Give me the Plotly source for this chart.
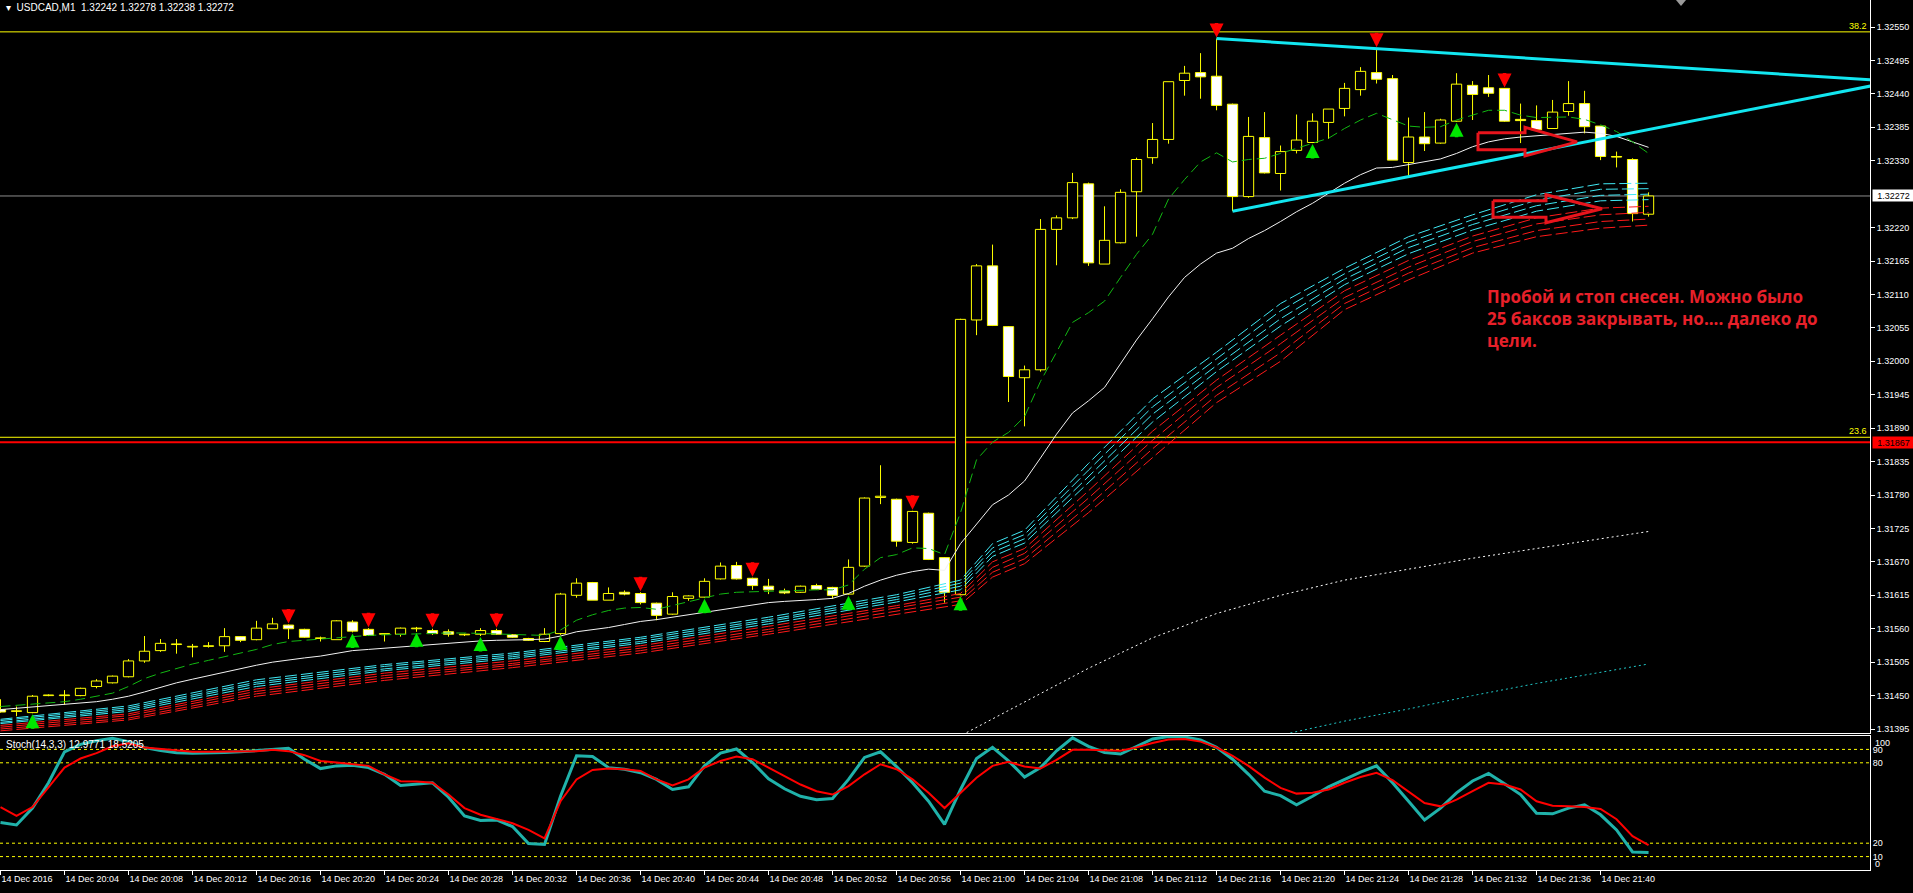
import pandas as pd
import plotly.graph_objects as go

# ---------------- data ----------------
opens = [1.31427, 1.31424, 1.31422, 1.31450, 1.31450, 1.31450, 1.31465, 1.31471, 1.31481, 1.31507,
         1.31524, 1.31534, 1.31530, 1.31531, 1.31532, 1.31547, 1.31542, 1.31560, 1.31566, 1.31559,
         1.31544, 1.31542, 1.31571, 1.31559, 1.31551, 1.31551, 1.31560, 1.31557, 1.31555, 1.31550,
         1.31551, 1.31557, 1.31550, 1.31544, 1.31539, 1.31552, 1.31615, 1.31636, 1.31607, 1.31620,
         1.31618, 1.31602, 1.31584, 1.31610, 1.31612, 1.31642, 1.31664, 1.31643, 1.31630, 1.31622,
         1.31620, 1.31631, 1.31628, 1.31617, 1.31663, 1.31776, 1.31773, 1.31702, 1.31750, 1.31677,
         1.31616, 1.32068, 1.32157, 1.32057, 1.31973, 1.31986, 1.32217, 1.32236, 1.32292, 1.32160,
         1.32195, 1.32279, 1.32335, 1.32365, 1.32462, 1.32475, 1.32469, 1.32423, 1.32271, 1.32368,
         1.32309, 1.32347, 1.32360, 1.32393, 1.32416, 1.32447, 1.32475, 1.32465, 1.32327, 1.32369,
         1.32359, 1.32395, 1.32454, 1.32450, 1.32449, 1.32398, 1.32396, 1.32383, 1.32411, 1.32424,
         1.32387, 1.32337, 1.32332, 1.32242]
highs = [1.31444, 1.31432, 1.31451, 1.31452, 1.31459, 1.31463, 1.31477, 1.31483, 1.31510, 1.31548,
         1.31543, 1.31543, 1.31535, 1.31538, 1.31561, 1.31548, 1.31573, 1.31578, 1.31567, 1.31560,
         1.31547, 1.31574, 1.31574, 1.31561, 1.31552, 1.31562, 1.31563, 1.31560, 1.31559, 1.31552,
         1.31561, 1.31560, 1.31551, 1.31545, 1.31561, 1.31619, 1.31643, 1.31637, 1.31628, 1.31623,
         1.31620, 1.31603, 1.31620, 1.31615, 1.31643, 1.31669, 1.31670, 1.31644, 1.31642, 1.31626,
         1.31631, 1.31634, 1.31629, 1.31674, 1.31776, 1.31829, 1.31774, 1.31754, 1.31751, 1.31678,
         1.32070, 1.32160, 1.32192, 1.32058, 1.31993, 1.32234, 1.32240, 1.32310, 1.32294, 1.32255,
         1.32283, 1.32335, 1.32392, 1.32460, 1.32486, 1.32507, 1.32531, 1.32424, 1.32402, 1.32410,
         1.32355, 1.32406, 1.32408, 1.32415, 1.32458, 1.32484, 1.32515, 1.32471, 1.32401, 1.32410,
         1.32399, 1.32474, 1.32461, 1.32471, 1.32449, 1.32424, 1.32421, 1.32430, 1.32461, 1.32445,
         1.32387, 1.32345, 1.32334, 1.32278]
lows = [1.31422, 1.31416, 1.31421, 1.31449, 1.31435, 1.31449, 1.31462, 1.31470, 1.31480, 1.31504,
        1.31522, 1.31519, 1.31513, 1.31529, 1.31522, 1.31538, 1.31541, 1.31560, 1.31543, 1.31545,
        1.31539, 1.31542, 1.31554, 1.31548, 1.31539, 1.31547, 1.31555, 1.31550, 1.31547, 1.31548,
        1.31548, 1.31550, 1.31545, 1.31540, 1.31538, 1.31550, 1.31611, 1.31607, 1.31607, 1.31615,
        1.31600, 1.31574, 1.31583, 1.31606, 1.31611, 1.31641, 1.31641, 1.31624, 1.31617, 1.31617,
        1.31619, 1.31624, 1.31609, 1.31616, 1.31662, 1.31765, 1.31695, 1.31700, 1.31673, 1.31603,
        1.31615, 1.32043, 1.32058, 1.31933, 1.31893, 1.31983, 1.32158, 1.32234, 1.32157, 1.32160,
        1.32194, 1.32205, 1.32325, 1.32358, 1.32437, 1.32432, 1.32413, 1.32247, 1.32269, 1.32309,
        1.32281, 1.32342, 1.32359, 1.32366, 1.32403, 1.32437, 1.32457, 1.32331, 1.32305, 1.32346,
        1.32358, 1.32394, 1.32397, 1.32435, 1.32394, 1.32359, 1.32380, 1.32383, 1.32404, 1.32375,
        1.32331, 1.32319, 1.32230, 1.32238]
closes = [1.31423, 1.31425, 1.31449, 1.31451, 1.31451, 1.31462, 1.31474, 1.31482, 1.31507, 1.31523,
          1.31536, 1.31535, 1.31531, 1.31532, 1.31547, 1.31541, 1.31561, 1.31568, 1.31560, 1.31546,
          1.31545, 1.31573, 1.31556, 1.31549, 1.31552, 1.31561, 1.31561, 1.31552, 1.31551, 1.31551,
          1.31557, 1.31551, 1.31546, 1.31541, 1.31551, 1.31617, 1.31635, 1.31607, 1.31618, 1.31617,
          1.31603, 1.31582, 1.31613, 1.31614, 1.31638, 1.31663, 1.31642, 1.31631, 1.31624, 1.31619,
          1.31630, 1.31625, 1.31615, 1.31661, 1.31775, 1.31778, 1.31704, 1.31753, 1.31674, 1.31620,
          1.32069, 1.32157, 1.32059, 1.31975, 1.31986, 1.32217, 1.32236, 1.32294, 1.32162, 1.32199,
          1.32278, 1.32332, 1.32365, 1.32460, 1.32474, 1.32468, 1.32421, 1.32271, 1.32370, 1.32310,
          1.32345, 1.32364, 1.32395, 1.32415, 1.32449, 1.32477, 1.32464, 1.32331, 1.32369, 1.32358,
          1.32397, 1.32456, 1.32439, 1.32441, 1.32395, 1.32396, 1.32381, 1.32410, 1.32424, 1.32386,
          1.32337, 1.32336, 1.32243, 1.32272]

ma_fast = [1.31432, 1.31434, 1.31436, 1.31437, 1.31440, 1.31444, 1.31449, 1.31454, 1.31465, 1.31478,
           1.31487, 1.31495, 1.31502, 1.31508, 1.31514, 1.31520, 1.31526, 1.31534, 1.31539, 1.31541,
           1.31543, 1.31546, 1.31548, 1.31549, 1.31550, 1.31551, 1.31552, 1.31553, 1.31553, 1.31553,
           1.31552, 1.31551, 1.31550, 1.31549, 1.31549, 1.31558, 1.31574, 1.31583, 1.31590, 1.31594,
           1.31595, 1.31592, 1.31598, 1.31604, 1.31611, 1.31617, 1.31620, 1.31621, 1.31622, 1.31623,
           1.31624, 1.31624, 1.31624, 1.31632, 1.31658, 1.31677, 1.31682, 1.31693, 1.31692, 1.31682,
           1.31751, 1.31838, 1.31867, 1.31883, 1.31909, 1.31967, 1.32015, 1.32064, 1.32080, 1.32099,
           1.32138, 1.32176, 1.32209, 1.32267, 1.32299, 1.32328, 1.32343, 1.32328, 1.32332, 1.32334,
           1.32342, 1.32350, 1.32359, 1.32367, 1.32383, 1.32397, 1.32408, 1.32397, 1.32387, 1.32385,
           1.32386, 1.32397, 1.32405, 1.32413, 1.32413, 1.32405, 1.32401, 1.32401, 1.32402, 1.32398,
           1.32389, 1.32378, 1.32361, 1.32342]
ma_slow = [1.31427, 1.31429, 1.31431, 1.31433, 1.31435, 1.31437, 1.31440, 1.31444, 1.31449, 1.31456,
           1.31464, 1.31471, 1.31477, 1.31483, 1.31489, 1.31495, 1.31500, 1.31505, 1.31509, 1.31512,
           1.31515, 1.31520, 1.31524, 1.31526, 1.31528, 1.31531, 1.31533, 1.31535, 1.31537, 1.31539,
           1.31540, 1.31541, 1.31541, 1.31542, 1.31543, 1.31548, 1.31555, 1.31558, 1.31562, 1.31567,
           1.31572, 1.31575, 1.31579, 1.31582, 1.31586, 1.31591, 1.31595, 1.31599, 1.31603, 1.31605,
           1.31606, 1.31608, 1.31610, 1.31618, 1.31630, 1.31640, 1.31648, 1.31654, 1.31658, 1.31656,
           1.31700, 1.31732, 1.31764, 1.31780, 1.31803, 1.31841, 1.31880, 1.31915, 1.31935, 1.31957,
           1.31996, 1.32035, 1.32070, 1.32106, 1.32138, 1.32160, 1.32178, 1.32186, 1.32202, 1.32215,
           1.32230, 1.32246, 1.32260, 1.32276, 1.32293, 1.32307, 1.32318, 1.32319, 1.32324, 1.32328,
           1.32333, 1.32342, 1.32353, 1.32361, 1.32366, 1.32369, 1.32371, 1.32373, 1.32376, 1.32377,
           1.32375, 1.32370, 1.32361, 1.32352]

ribbon_bars = [0, 8, 16, 24, 32, 40, 48, 56, 60, 62, 64, 68, 72, 76, 80, 84, 88, 92, 96, 100, 103]
cyan_ma1 = [1.31411, 1.31433, 1.31476, 1.31501, 1.31520, 1.31546, 1.31579, 1.31616, 1.31640, 1.31700, 1.31722,
            1.31832, 1.31938, 1.32015, 1.32095, 1.32153, 1.32205, 1.32241, 1.32274, 1.32292, 1.32293]
cyan_ma2 = [1.31409, 1.31430, 1.31472, 1.31498, 1.31517, 1.31543, 1.31575, 1.31612, 1.31635, 1.31693, 1.31715,
            1.31821, 1.31925, 1.32004, 1.32083, 1.32144, 1.32196, 1.32233, 1.32265, 1.32283, 1.32284]
cyan_ma3 = [1.31406, 1.31427, 1.31469, 1.31494, 1.31514, 1.31539, 1.31572, 1.31608, 1.31630, 1.31686, 1.31708,
            1.31811, 1.31913, 1.31993, 1.32070, 1.32135, 1.32187, 1.32225, 1.32256, 1.32273, 1.32275]
cyan_ma4 = [1.31404, 1.31424, 1.31465, 1.31491, 1.31511, 1.31536, 1.31568, 1.31604, 1.31624, 1.31679, 1.31701,
            1.31800, 1.31900, 1.31983, 1.32058, 1.32126, 1.32177, 1.32216, 1.32247, 1.32264, 1.32266]
red_ma1 = [1.31401, 1.31420, 1.31461, 1.31487, 1.31507, 1.31532, 1.31564, 1.31598, 1.31618, 1.31670, 1.31692,
           1.31787, 1.31885, 1.31969, 1.32043, 1.32116, 1.32166, 1.32206, 1.32236, 1.32252, 1.32255]
red_ma2 = [1.31398, 1.31417, 1.31457, 1.31483, 1.31503, 1.31528, 1.31559, 1.31594, 1.31612, 1.31661, 1.31684,
           1.31775, 1.31870, 1.31957, 1.32029, 1.32105, 1.32155, 1.32197, 1.32226, 1.32241, 1.32245]
red_ma3 = [1.31395, 1.31413, 1.31453, 1.31479, 1.31500, 1.31524, 1.31555, 1.31589, 1.31606, 1.31653, 1.31675,
           1.31763, 1.31856, 1.31944, 1.32014, 1.32095, 1.32145, 1.32187, 1.32215, 1.32230, 1.32234]
red_ma4 = [1.31392, 1.31410, 1.31449, 1.31475, 1.31496, 1.31520, 1.31551, 1.31584, 1.31600, 1.31645, 1.31667,
           1.31751, 1.31841, 1.31932, 1.32000, 1.32085, 1.32134, 1.32178, 1.32205, 1.32219, 1.32224]

long_white_bars = [59, 64, 68, 72, 76, 80, 84, 88, 92, 96, 100, 103]
long_white_ma = [1.31370, 1.31440, 1.31495, 1.31545, 1.31585, 1.31615, 1.31640, 1.31658, 1.31676, 1.31692, 1.31708, 1.31720]
long_cyan_bars = [80, 84, 88, 92, 96, 100, 103]
long_cyan_ma = [1.31385, 1.31408, 1.31428, 1.31450, 1.31470, 1.31488, 1.31502]

stoch_main = [35.4, 33.6, 46.2, 65.1, 88.2, 93.8, 96.5, 98.3, 95.8, 91.3,
              89.2, 87.5, 87.2, 87.2, 87.7, 88.2, 89.0, 90.3, 90.8, 82.7,
              75.7, 77.7, 78.2, 76.4, 71.4, 63.1, 64.3, 65.1, 54.3, 40.4,
              36.9, 37.4, 32.4, 19.8, 19.0, 55.0, 85.2, 84.7, 76.4, 75.2,
              72.6, 67.6, 60.1, 62.1, 77.7, 87.2, 90.3, 80.2, 68.1, 60.6,
              55.0, 52.5, 53.3, 67.6, 84.0, 88.2, 77.2, 65.1, 51.3, 34.1,
              60.1, 83.2, 91.5, 81.4, 69.4, 76.4, 89.0, 98.6, 92.3, 87.7,
              86.5, 92.3, 97.8, 99.6, 99.3, 97.0, 91.5, 82.7, 71.4, 58.8,
              55.5, 48.7, 55.0, 62.1, 67.6, 73.1, 77.7, 65.1, 51.3, 37.4,
              46.2, 57.6, 66.4, 72.1, 64.3, 56.3, 42.4, 41.9, 46.2, 48.7,
              41.2, 29.9, 13.5, 12.98]
stoch_signal = [47.0, 40.4, 47.0, 61.3, 76.4, 83.2, 87.2, 92.3, 94.5, 91.5,
                90.3, 89.2, 88.2, 88.2, 88.2, 88.2, 88.7, 89.7, 88.7, 85.7,
                81.4, 80.2, 79.2, 77.7, 71.4, 66.3, 66.1, 65.1, 56.3, 46.2,
                41.2, 37.9, 34.9, 29.9, 23.6, 51.3, 67.6, 74.7, 75.7, 75.2,
                73.9, 67.6, 63.1, 67.6, 76.4, 81.4, 84.7, 82.7, 76.4, 70.1,
                63.8, 58.8, 56.3, 62.6, 71.4, 78.9, 75.2, 67.6, 57.6, 46.2,
                57.6, 68.9, 77.7, 80.7, 77.2, 75.7, 82.2, 89.7, 89.7, 89.2,
                89.0, 91.5, 94.8, 97.3, 97.8, 95.8, 91.5, 85.2, 77.7, 68.9,
                61.3, 57.0, 57.6, 60.1, 65.1, 69.4, 72.6, 67.1, 58.8, 50.0,
                47.5, 52.5, 58.8, 65.1, 63.8, 60.1, 51.3, 48.0, 47.5, 47.0,
                45.5, 37.9, 25.3, 18.52]
stoch_levels = [90, 80, 20, 10]

up_arrow_bars = [18, 23, 27, 31, 40, 47, 57, 76, 86, 94]
down_arrow_bars = [2, 22, 26, 30, 35, 44, 53, 60, 82, 91]

trend_hi_bars = [76, 120]
trend_hi_prices = [1.32531, 1.32458]
trend_lo_bars = [77, 120]
trend_lo_prices = [1.32247, 1.32469]

arrow1_bars = [92.34, 95.28, 95.28, 98.53, 95.28, 95.28, 92.34, 92.34]
arrow1_prices = [1.32376, 1.32376, 1.32385, 1.32361, 1.32338, 1.32348, 1.32348, 1.32376]
arrow2_bars = [93.28, 96.59, 96.59, 100.09, 96.59, 96.59, 93.28, 93.28]
arrow2_prices = [1.32264, 1.32264, 1.32274, 1.32251, 1.32228, 1.32237, 1.32237, 1.32264]

fib_levels = [1.32542, 1.31875]
fib_labels = ["38.2", "23.6"]
stop_level = 1.31867
last_price = 1.32272

price_ticks = [1.32550, 1.32495, 1.32440, 1.32385, 1.32330, 1.32220, 1.32165, 1.32110, 1.32055,
               1.32000, 1.31945, 1.31890, 1.31835, 1.31780, 1.31725, 1.31670, 1.31615, 1.31560,
               1.31505, 1.31450, 1.31395]
time_tick_bars = [0, 4, 8, 12, 16, 20, 24, 28, 32, 36, 40, 44, 48, 52, 56, 60, 64, 68, 72, 76, 80,
                  84, 88, 92, 96, 100]
time_tick_labels = ["14 Dec 2016", "14 Dec 20:04", "14 Dec 20:08", "14 Dec 20:12", "14 Dec 20:16",
                    "14 Dec 20:20", "14 Dec 20:24", "14 Dec 20:28", "14 Dec 20:32", "14 Dec 20:36",
                    "14 Dec 20:40", "14 Dec 20:44", "14 Dec 20:48", "14 Dec 20:52", "14 Dec 20:56",
                    "14 Dec 21:00", "14 Dec 21:04", "14 Dec 21:08", "14 Dec 21:12", "14 Dec 21:16",
                    "14 Dec 21:20", "14 Dec 21:24", "14 Dec 21:28", "14 Dec 21:32", "14 Dec 21:36",
                    "14 Dec 21:40"]

header_text = "▾  USDCAD,M1  1.32242 1.32278 1.32238 1.32272"
stoch_text = "Stoch(14,3,3) 12.9771 18.5205"
note_text = "Пробой и стоп снесен. Можно было<br>25 баксов закрывать, но.... далеко до<br>цели."

# ---------------- helpers ----------------
start = pd.Timestamp("2016-12-14 20:00")


def t(k):
    return start + pd.Timedelta(minutes=k)


times = [t(i) for i in range(len(opens))]

W, H = 1913, 893
PL_W, PL_H = 1870, 870      # plot area in px
MAIN_BOTTOM, STOCH_TOP = 733, 736


def px(xp):
    return xp / PL_W


def py(yp):
    return 1 - yp / PL_H


FONT = "Liberation Sans, Arial, sans-serif"
YELLOW = "#ffff00"

fig = go.Figure()

# wicks (split so they do not cross the white bodies)
wx, wy = [], []
for i in range(len(opens)):
    top = max(opens[i], closes[i])
    bot = min(opens[i], closes[i])
    wx += [times[i], times[i], None, times[i], times[i], None]
    wy += [highs[i], top, None, bot, lows[i], None]
fig.add_trace(go.Scatter(x=wx, y=wy, mode="lines", line=dict(color=YELLOW, width=1),
                         hoverinfo="skip", xaxis="x", yaxis="y"))

body_base = [min(o, c) for o, c in zip(opens, closes)]
body_h = [abs(c - o) for o, c in zip(opens, closes)]
body_col = ["#000000" if c >= o else "#ffffff" for o, c in zip(opens, closes)]
fig.add_trace(go.Bar(x=times, y=body_h, base=body_base, width=0.64 * 60000,
                     marker=dict(color=body_col, line=dict(color=YELLOW, width=1)),
                     xaxis="x", yaxis="y", hoverinfo="skip"))

rb_t = [t(k) for k in ribbon_bars]
for arr in [red_ma4, red_ma3, red_ma2, red_ma1]:
    fig.add_trace(go.Scatter(x=rb_t, y=arr, mode="lines",
                             line=dict(color="#ff1a1a", width=1, dash="12px,4px"),
                             xaxis="x", yaxis="y", hoverinfo="skip"))
for arr in [cyan_ma4, cyan_ma3, cyan_ma2, cyan_ma1]:
    fig.add_trace(go.Scatter(x=rb_t, y=arr, mode="lines",
                             line=dict(color="#40e8f4", width=1, dash="12px,4px"),
                             xaxis="x", yaxis="y", hoverinfo="skip"))

fig.add_trace(go.Scatter(x=[t(k) for k in long_white_bars], y=long_white_ma, mode="lines",
                         line=dict(color="#ffffff", width=1, dash="2px,3px"),
                         xaxis="x", yaxis="y", hoverinfo="skip"))
fig.add_trace(go.Scatter(x=[t(k) for k in long_cyan_bars], y=long_cyan_ma, mode="lines",
                         line=dict(color="#20c8c8", width=1, dash="2px,3px"),
                         xaxis="x", yaxis="y", hoverinfo="skip"))

fig.add_trace(go.Scatter(x=times, y=ma_slow, mode="lines", line=dict(color="#f2f2f2", width=1),
                         xaxis="x", yaxis="y", hoverinfo="skip"))
fig.add_trace(go.Scatter(x=times, y=ma_fast, mode="lines",
                         line=dict(color="#12b812", width=1, dash="10px,5px"),
                         xaxis="x", yaxis="y", hoverinfo="skip"))

# trend lines
for bx, pr in [(trend_hi_bars, trend_hi_prices), (trend_lo_bars, trend_lo_prices)]:
    fig.add_trace(go.Scatter(x=[t(k) for k in bx], y=pr, mode="lines",
                             line=dict(color="#12e6f0", width=3),
                             xaxis="x", yaxis="y", hoverinfo="skip"))

# hollow red arrows
for bx, pr in [(arrow1_bars, arrow1_prices), (arrow2_bars, arrow2_prices)]:
    fig.add_trace(go.Scatter(x=[t(k) for k in bx], y=pr, mode="lines",
                             line=dict(color="#e8141c", width=3),
                             xaxis="x", yaxis="y", hoverinfo="skip"))

# stochastic
fig.add_trace(go.Scatter(x=times, y=stoch_main, mode="lines", line=dict(color="#20b2aa", width=3),
                         xaxis="x2", yaxis="y2", hoverinfo="skip"))
fig.add_trace(go.Scatter(x=times, y=stoch_signal, mode="lines", line=dict(color="#ff0000", width=2),
                         xaxis="x2", yaxis="y2", hoverinfo="skip"))

shapes = []
for lv in stoch_levels:
    shapes.append(dict(type="line", xref="paper", x0=0, x1=1, yref="y2", y0=lv, y1=lv,
                       line=dict(color=YELLOW, width=1, dash="3px,3px"), layer="below"))
for lv in fib_levels:
    shapes.append(dict(type="line", xref="paper", x0=0, x1=1, yref="y", y0=lv, y1=lv,
                       line=dict(color=YELLOW, width=1), layer="below"))
shapes.append(dict(type="line", xref="paper", x0=0, x1=1, yref="y", y0=stop_level, y1=stop_level,
                   line=dict(color="#ff0000", width=2), layer="below"))
shapes.append(dict(type="line", xref="paper", x0=0, x1=1, yref="y", y0=last_price, y1=last_price,
                   line=dict(color="#8c8c8c", width=1), layer="below"))
# chart-shift marker at the top
shapes.append(dict(type="path", xref="paper", yref="paper",
                   path=f"M {px(1676)},{py(0)} L {px(1686)},{py(0)} L {px(1681)},{py(6)} Z",
                   fillcolor="#9a9a9a", line=dict(width=0)))

ann = []
for k in up_arrow_bars:
    ann.append(dict(x=times[k], y=highs[k], xref="x", yref="y", text="", showarrow=True,
                    ax=0, ay=-17, arrowhead=2, arrowsize=0.8, arrowwidth=3.5,
                    arrowcolor="#ff0000", standoff=1))
for k in down_arrow_bars:
    ann.append(dict(x=times[k], y=lows[k], xref="x", yref="y", text="", showarrow=True,
                    ax=0, ay=17, arrowhead=2, arrowsize=0.8, arrowwidth=3.5,
                    arrowcolor="#00e600", standoff=1))

ann.append(dict(x=px(4), y=py(8), xref="paper", yref="paper", xanchor="left", yanchor="middle",
                text=header_text, showarrow=False, font=dict(color="white", size=10, family=FONT)))
ann.append(dict(x=px(4), y=py(744), xref="paper", yref="paper", xanchor="left", yanchor="middle",
                text=stoch_text, showarrow=False, font=dict(color="white", size=10, family=FONT)))
for lv, lab in zip(fib_levels, fib_labels):
    ann.append(dict(x=px(1868), y=lv, xref="paper", yref="y", xanchor="right", yanchor="bottom",
                    text=lab, showarrow=False, font=dict(color=YELLOW, size=9, family=FONT),
                    borderpad=0, yshift=0))
ann.append(dict(x=px(1485), y=py(283), xref="paper", yref="paper", xanchor="left", yanchor="top",
                text="<b>" + note_text + "</b>", align="left", showarrow=False,
                font=dict(color="#e8202a", size=17, family="Open Sans, Noto Sans, sans-serif")))
ann.append(dict(x=px(1872), y=last_price, xref="paper", yref="y", xanchor="left", yanchor="middle",
                text=f"{last_price:.5f}", showarrow=False, bgcolor="#ffffff", width=41, height=11,
                borderpad=0, font=dict(color="#000000", size=9, family=FONT)))
ann.append(dict(x=px(1872), y=stop_level, xref="paper", yref="y", xanchor="left", yanchor="middle",
                text=f"{stop_level:.5f}", showarrow=False, bgcolor="#ff0000", width=41, height=11,
                borderpad=0, font=dict(color="#000000", size=9, family=FONT)))
for v, lab in [(95, "100"), (4.5, "0")]:
    ann.append(dict(x=px(1873), y=v, xref="paper", yref="y2", xanchor="left", yanchor="middle",
                    text=lab, showarrow=False, font=dict(color="white", size=9, family=FONT)))

y_top = 1.32550 + 27 * 0.00055 / 33.43
y_bot = 1.32550 - 706 * 0.00055 / 33.43
x_range = [t(-0.031), t(116.84)]

fig.update_layout(
    width=W, height=H,
    margin=dict(l=0, r=W - PL_W, t=0, b=H - PL_H, pad=0),
    paper_bgcolor="#000000", plot_bgcolor="#000000",
    showlegend=False, hovermode=False,
    shapes=shapes, annotations=ann,
    xaxis=dict(domain=[0, 1], anchor="y", range=x_range, showticklabels=False, showgrid=False,
               zeroline=False, showline=True, linecolor="white", linewidth=1, ticks=""),
    yaxis=dict(domain=[1 - MAIN_BOTTOM / PL_H, 1], anchor="x", side="right", range=[y_bot, y_top],
               tickvals=price_ticks, ticktext=[f"{v:.5f}" for v in price_ticks],
               ticks="outside", ticklen=4, tickcolor="white", showline=True, linecolor="white",
               linewidth=1, showgrid=False, zeroline=False,
               tickfont=dict(color="white", size=9, family=FONT)),
    xaxis2=dict(domain=[0, 1], anchor="y2", range=x_range, showgrid=False, zeroline=False,
                showline=True, linecolor="white", linewidth=1, mirror=True,
                tickvals=[times[k] for k in time_tick_bars], ticktext=time_tick_labels,
                ticks="outside", ticklen=4, tickcolor="white",
                ticklabelposition="outside right",
                tickfont=dict(color="white", size=9, family=FONT)),
    yaxis2=dict(domain=[0, 1 - STOCH_TOP / PL_H], anchor="x2", side="right", range=[0, 100],
                tickvals=stoch_levels, ticktext=[str(v) for v in stoch_levels], ticks="",
                showline=True, linecolor="white", linewidth=1, showgrid=False, zeroline=False,
                tickfont=dict(color="white", size=9, family=FONT)),
)

fig.write_html("out.html")
